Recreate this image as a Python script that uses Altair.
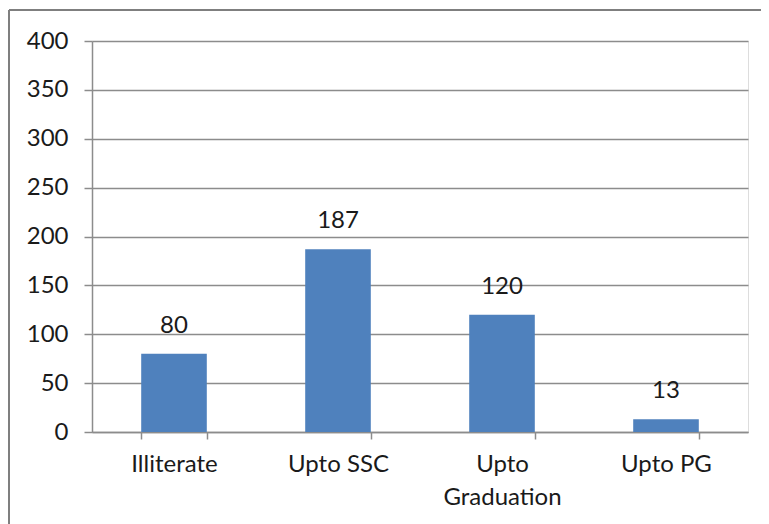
import altair as alt
import pandas as pd

categories = ["Illiterate", "Upto SSC", "Upto Graduation", "Upto PG"]
values = [80, 187, 120, 13]
y_ticks = [0, 50, 100, 150, 200, 250, 300, 350, 400]

df = pd.DataFrame({"category": categories, "value": values})

FONT = "Lato"
FS = 24
GRAY = "#8c8c8c"
TEXT = "#1a1a1a"
W, H = 656, 391

x_enc = alt.X(
    "category:N",
    sort=categories,
    scale=alt.Scale(paddingInner=0.6, paddingOuter=0.3),
    axis=alt.Axis(
        title=None,
        labelAngle=0,
        tickBand="extent",
        tickSize=7,
        tickWidth=1.5,
        tickColor=GRAY,
        domainColor=GRAY,
        domainWidth=1.5,
        labelPadding=13,
        labelFont=FONT,
        labelFontSize=FS,
        labelColor=TEXT,
        labelLineHeight=33,
        labelExpr="datum.label == 'Upto Graduation' ? ['Upto', 'Graduation'] : datum.label",
        grid=False,
    ),
)

y_enc = alt.Y(
    "value:Q",
    scale=alt.Scale(domain=[0, 400], nice=False),
    axis=alt.Axis(
        title=None,
        values=y_ticks,
        tickSize=8,
        tickWidth=1.5,
        tickColor=GRAY,
        domainColor=GRAY,
        domainWidth=1.5,
        gridColor=GRAY,
        gridWidth=1.5,
        labelPadding=16,
        labelFont=FONT,
        labelFontSize=FS,
        labelColor=TEXT,
    ),
)

bars = alt.Chart(df).mark_bar(color="#4F81BD").encode(x=x_enc, y=y_enc)

labels = alt.Chart(df).mark_text(
    font=FONT, fontSize=FS, color=TEXT, dy=-28, baseline="middle"
).encode(x=alt.X("category:N", sort=categories), y="value:Q", text="value:Q")

border_left = alt.Chart(df).mark_rule(color="#7f7f7f", strokeWidth=2).encode(
    x=alt.value(-83), y=alt.value(-31), y2=alt.value(H + 100)
)
border_top = alt.Chart(df).mark_rule(color="#7f7f7f", strokeWidth=2).encode(
    x=alt.value(-83), x2=alt.value(W + 40), y=alt.value(-31)
)

chart = (
    alt.layer(bars, labels, border_left, border_top)
    .properties(
        width=W,
        height=H,
        autosize=alt.AutoSizeParams(type="none"),
        padding={"left": 84, "top": 33, "right": 13, "bottom": 92},
    )
    .configure_view(stroke=None)
    .configure(background="white")
)

chart.save("out.html", embed_options={"renderer": "svg", "actions": False})
